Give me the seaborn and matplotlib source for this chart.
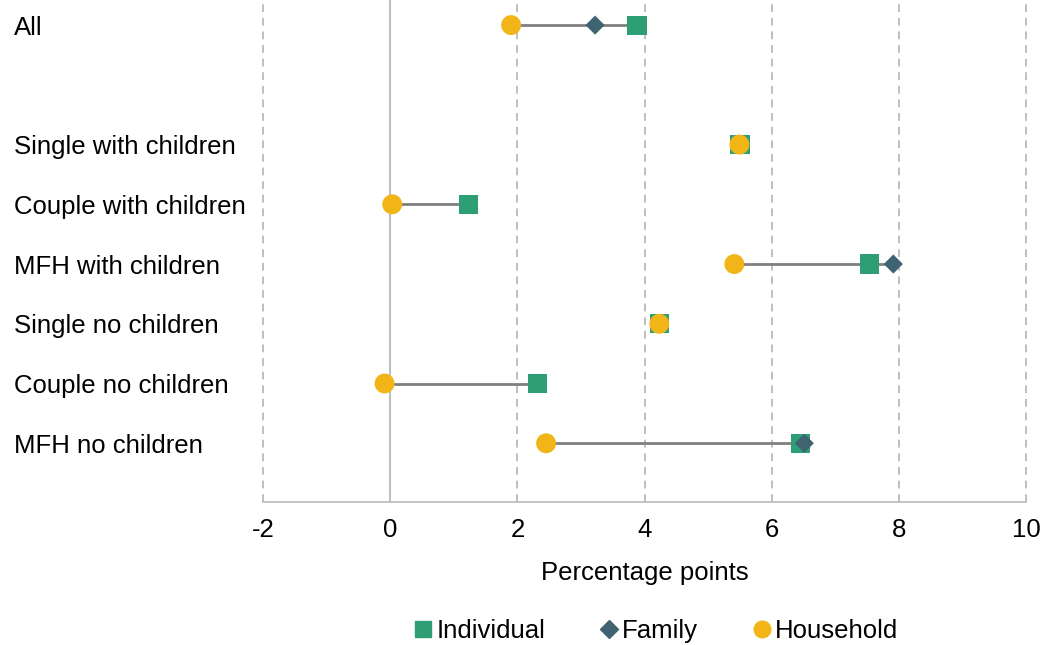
import matplotlib
matplotlib.use("Agg")
import matplotlib.pyplot as plt
import matplotlib.transforms as mtransforms
import seaborn as sns
import pandas as pd
import numpy as np

# categories (top to bottom), an empty gap row after "All"
categories = ["All", "", "Single with children", "Couple with children",
              "MFH with children", "Single no children", "Couple no children",
              "MFH no children"]

individual = [3.88, np.nan, 5.50, 1.23, 7.53, 4.23, 2.31, 6.45]
family = [3.22, np.nan, 5.50, 0.03, 7.91, 4.23, -0.09, 6.51]
household = [1.90, np.nan, 5.49, 0.03, 5.41, 4.23, -0.09, 2.45]

series = ["Individual", "Family", "Household"]
colors = {"Individual": "#2E9E74", "Family": "#3F6370", "Household": "#F2B518"}
markers = {"Individual": "s", "Family": "D", "Household": "o"}
sizes = {"Individual": 190, "Family": 95, "Household": 205}

xticks = [-2, 0, 2, 4, 6, 8, 10]

sns.set_theme(style="white")
plt.rcParams["font.family"] = ["Liberation Sans", "DejaVu Sans"]
plt.rcParams["text.color"] = "black"
plt.rcParams["xtick.color"] = "black"
plt.rcParams["axes.labelcolor"] = "black"

rows = []
for i, cat in enumerate(categories):
    for name, vals in zip(series, [individual, family, household]):
        if not np.isnan(vals[i]):
            rows.append({"pos": i, "value": vals[i], "series": name})
df = pd.DataFrame(rows)

fig = plt.figure(figsize=(10.44, 6.45), dpi=100)
ax = fig.add_axes([0.252, 0.222, 0.731, 0.778])

# grid lines
for t in xticks:
    if t == 0:
        ax.axvline(t, color="#BFBFBF", lw=1.5, zorder=0, clip_on=False)
    else:
        ax.axvline(t, color="#BFBFBF", lw=1.4, ls=(0, (4, 3)), zorder=0,
                   clip_on=False)

# connecting lines from min to max
lo = df.groupby("pos")["value"].min()
hi = df.groupby("pos")["value"].max()
ax.hlines(lo.index, lo.values, hi.values, color="#7F7F7F", lw=2, zorder=1)

for name in series:
    sub = df[df.series == name]
    sns.scatterplot(data=sub, x="value", y="pos", marker=markers[name],
                    color=colors[name], s=sizes[name], edgecolor="none",
                    ax=ax, zorder=3, legend=False)

ax.set_xlim(-2, 10)
ax.set_ylim(7.98, -0.42)
ax.set_xticks(xticks)
ax.set_xticklabels([str(t) for t in xticks], fontsize=18.5)
ax.tick_params(axis="x", length=0, pad=12)
ax.set_yticks([])
ax.set_ylabel("")
ax.set_xlabel("Percentage points", fontsize=18.5, labelpad=13)

for s in ["top", "right", "left"]:
    ax.spines[s].set_visible(False)
ax.spines["bottom"].set_color("#BFBFBF")
ax.spines["bottom"].set_linewidth(1.3)

# category labels at the left
trans = mtransforms.blended_transform_factory(fig.transFigure, ax.transData)
for i, cat in enumerate(categories):
    if cat:
        ax.text(14 / 1044, i, cat, transform=trans,
                fontsize=18.5, va="center_baseline", ha="left")

handles = [plt.Line2D([], [], ls="", marker=markers[n], color=colors[n],
                      markersize=12 if n != "Family" else 9.5) for n in series]
fig.legend(handles, series, loc="center", bbox_to_anchor=(0.627, 0.022),
           ncol=3, frameon=False, fontsize=18.5, handletextpad=0.0,
           columnspacing=2.0, handlelength=1.0, borderpad=0.1)

fig.savefig("out.png", dpi=100)
